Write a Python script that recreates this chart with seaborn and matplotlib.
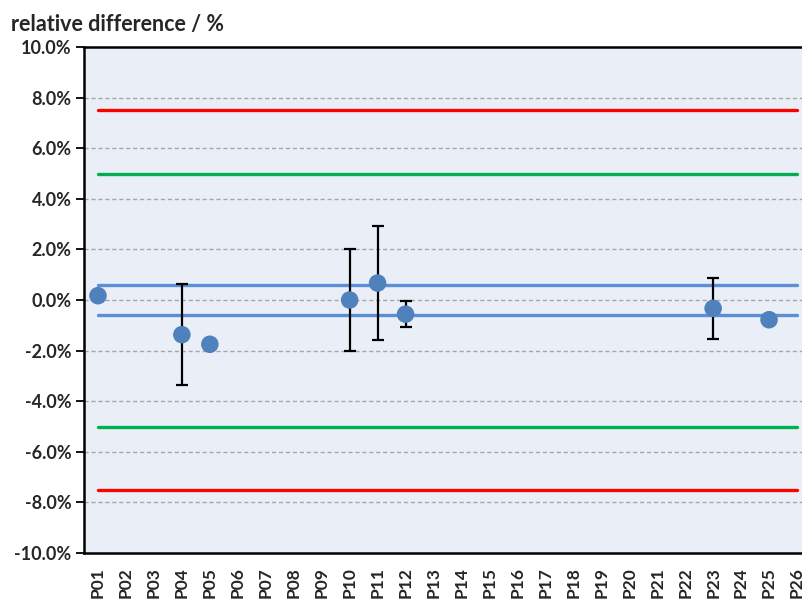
import numpy as np
import pandas as pd
import matplotlib
matplotlib.use("Agg")
import matplotlib.pyplot as plt
import seaborn as sns

# Participants and their relative differences (%) with expanded uncertainties (%)
participants = [f"P{i:02d}" for i in range(1, 27)]
values = [0.17, None, None, -1.37, -1.75, None, None, None, None, 0.00,
          0.67, -0.56, None, None, None, None, None, None, None, None,
          None, None, -0.33, None, -0.78, None]
uncertainties = [None, None, None, 2.00, None, None, None, None, None, 2.00,
                 2.27, 0.52, None, None, None, None, None, None, None, None,
                 None, None, 1.20, None, None, None]

# Acceptance limits (%)
action_limit = 7.5
warning_limit = 5.0
consensus_band = 0.6

y_ticks = np.arange(-10, 10.1, 2)

sns.set_theme(style="white")
plt.rcParams["font.family"] = ["Lato", "DejaVu Sans"]
plt.rcParams["font.weight"] = "bold"

df = pd.DataFrame({
    "pos": np.arange(1, len(participants) + 1),
    "participant": participants,
    "value": pd.array(values, dtype="Float64").astype(float),
    "unc": pd.array(uncertainties, dtype="Float64").astype(float),
})

fig = plt.figure(figsize=(8.03, 6.02), dpi=100)
ax = fig.add_axes([84 / 803, 49 / 602, 727 / 803, 506 / 602])
ax.set_facecolor("#EAEFF7")

# dashed horizontal grid
for yv in y_ticks[1:-1]:
    ax.axhline(yv, color="#A6A6A6", lw=1.0, ls=(0, (3, 2)), zorder=1)

x_span = [1, len(participants)]
limits = pd.DataFrame({
    "x": x_span * 6,
    "y": [action_limit] * 2 + [-action_limit] * 2
         + [warning_limit] * 2 + [-warning_limit] * 2
         + [consensus_band] * 2 + [-consensus_band] * 2,
    "line": ["a+"] * 2 + ["a-"] * 2 + ["w+"] * 2 + ["w-"] * 2 + ["c+"] * 2 + ["c-"] * 2,
})
palette = {"a+": "#FF0000", "a-": "#FF0000", "w+": "#00B050", "w-": "#00B050",
           "c+": "#5B8ED6", "c-": "#5B8ED6"}
sns.lineplot(data=limits, x="x", y="y", hue="line", palette=palette,
             linewidth=2.4, legend=False, ax=ax, zorder=2)

# uncertainty bars
eb = df.dropna(subset=["unc"])
ax.errorbar(eb["pos"], eb["value"], yerr=eb["unc"], fmt="none",
            ecolor="black", elinewidth=1.6, capsize=4.5, capthick=1.6, zorder=3)

sns.scatterplot(data=df.dropna(subset=["value"]), x="pos", y="value",
                s=160, color="#4F81BD", edgecolor="none", ax=ax, zorder=4)

ax.set_xlim(0.5, len(participants) + 0.5)
ax.set_ylim(-10, 10)

ax.set_yticks(y_ticks)
ax.set_yticklabels([f"{v:.1f}%" for v in y_ticks], fontsize=13, fontweight="bold")
ax.set_xticks(df["pos"])
ax.set_xticklabels(participants, rotation=90, fontsize=12.5, fontweight="bold")
ax.set_xticks(np.arange(0.5, len(participants) + 1, 1), minor=True)
ax.tick_params(axis="x", which="major", length=0, pad=10)
ax.tick_params(axis="x", which="minor", length=6, width=1.3, color="black", direction="out")
ax.tick_params(axis="y", which="major", length=6, width=1.3, color="black",
               direction="out", left=True, pad=3)
ax.set_xlabel("")
ax.set_ylabel("")

for side in ["left", "bottom", "top"]:
    ax.spines[side].set_visible(True)
    ax.spines[side].set_color("black")
    ax.spines[side].set_linewidth(1.8)
ax.spines["right"].set_visible(False)

fig.text(11 / 803, 1 - 24 / 602, "relative difference / %", fontsize=15.5,
         fontweight="bold", ha="left", va="center")

fig.savefig("out.png", dpi=100)
